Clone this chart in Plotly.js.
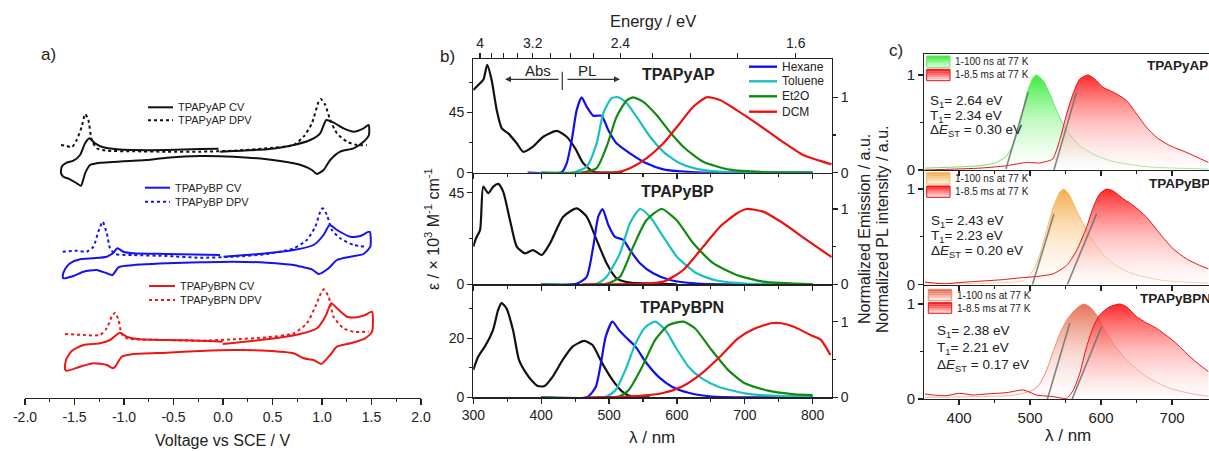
<!DOCTYPE html>
<html><head><meta charset="utf-8">
<script src="https://cdn.plot.ly/plotly-3.0.1.min.js"></script>
<style>html,body{margin:0;padding:0;background:#fff;}#chart{width:1209px;height:451px;}</style>
</head><body><div id="chart"></div>
<script>
// ================= DATA =================
// Panel a: cyclic voltammetry (CV) and DPV, current in arbitrary stacked units
const cvAP_V = [-0.029,0.106,0.443,0.713,0.881,0.982,1.043,1.117,1.218,1.319,1.420,1.471,1.474,1.420,1.319,1.184,1.083,1.016,0.949,0.898,0.814,0.713,0.443,0.106,-0.231,-0.568,-0.770,-0.905,-1.242,-1.276,-1.343,-1.393,-1.434,-1.478,-1.545,-1.612,-1.636,-1.629,-1.579,-1.511,-1.444,-1.393,-1.350,-1.292,-1.208,-1.073,-0.905,-0.568,-0.231,-0.045];
const cvAP_I = [246.3,247.0,248.7,253.0,258.0,264.7,278.0,275.3,269.7,266.3,269.7,273.0,263.0,256.3,249.7,246.3,238.0,228.0,224.0,228.0,232.0,234.7,238.7,241.3,242.0,240.3,238.0,237.3,235.3,234.7,233.0,224.7,212.3,214.7,218.7,221.3,224.7,231.3,235.3,237.3,243.0,254.7,259.7,254.7,250.7,248.7,248.0,248.0,249.0,249.3];
const dpvAP_V = [-1.636,-1.579,-1.528,-1.478,-1.427,-1.393,-1.360,-1.326,-1.276,-1.174,-0.905,-0.568,-0.231,0.106,0.443,0.713,0.814,0.898,0.966,0.989,1.033,1.083,1.151,1.252,1.353,1.454];
const dpvAP_I = [253.0,252.0,250.7,258.0,271.3,284.0,278.0,258.0,249.7,247.3,246.7,246.3,246.3,247.3,249.7,253.0,261.3,274.7,296.3,299.0,293.0,278.0,264.7,256.3,253.0,253.0];
const cvBP_V = [0.005,0.443,0.713,0.915,1.016,1.077,1.151,1.286,1.387,1.481,1.488,1.420,1.286,1.151,1.067,0.966,0.898,0.814,0.713,0.443,0.106,-0.231,-0.568,-0.972,-1.056,-1.117,-1.174,-1.276,-1.410,-1.511,-1.612,-1.619,-1.596,-1.545,-1.444,-1.309,-1.174,-1.107,-1.067,-1.006,-0.905,-0.568,-0.029];
const cvBP_I = [141.3,144.7,148.0,153.0,163.0,173.0,168.0,161.3,162.0,166.3,151.3,144.0,141.3,138.0,129.7,124.0,128.7,130.7,133.0,135.3,136.3,135.7,134.7,132.3,130.7,123.0,124.7,128.0,126.3,122.0,119.7,122.0,128.7,134.7,138.7,139.7,141.3,145.3,149.7,146.3,144.7,144.0,143.0];
const dpvBP_V = [-1.619,-1.478,-1.377,-1.309,-1.259,-1.215,-1.174,-1.141,-1.090,-0.905,-0.568,-0.231,0.106,0.443,0.713,0.847,0.932,0.989,1.009,1.050,1.100,1.184,1.319,1.437];
const dpvBP_I = [146.3,147.3,146.3,151.3,166.3,176.3,164.7,149.7,144.0,143.0,142.0,140.3,141.3,144.0,149.7,158.0,171.3,188.0,189.7,183.0,168.0,159.7,153.0,151.3];
const cvBPN_V = [-0.002,0.443,0.780,0.949,1.033,1.094,1.151,1.252,1.353,1.437,1.505,1.505,1.437,1.286,1.151,1.083,0.992,0.915,0.814,0.713,0.443,0.106,-0.231,-0.568,-0.905,-1.023,-1.090,-1.114,-1.174,-1.309,-1.444,-1.579,-1.596,-1.586,-1.528,-1.410,-1.242,-1.141,-1.090,-1.040,-0.972,-0.837,-0.568,-0.231,-0.002];
const cvBPN_I = [54.0,58.7,64.0,69.7,81.3,94.7,89.7,81.3,80.7,83.0,86.3,66.3,59.7,54.7,51.3,43.0,34.0,38.0,39.7,44.7,47.3,48.0,47.0,45.3,44.0,41.3,31.3,29.7,33.0,34.7,31.3,27.3,28.7,38.0,47.0,53.0,54.7,58.0,62.0,65.3,61.3,58.7,58.0,57.3,56.3];
const dpvBPN_V = [-1.596,-1.410,-1.242,-1.174,-1.124,-1.090,-1.056,-1.023,-0.972,-0.568,-0.231,0.106,0.443,0.713,0.847,0.932,0.989,1.016,1.067,1.117,1.218,1.319,1.471];
const dpvBPN_I = [64.0,63.0,63.0,69.7,81.3,85.3,78.0,64.0,59.7,58.0,57.3,58.7,60.7,64.7,74.7,91.3,104.7,108.7,101.3,81.3,69.7,66.3,66.3];
const voltTicks = [-2,-1.5,-1,-0.5,0,0.5,1,1.5,2];
const voltTickText = ['-2.0','-1.5','-1.0','-0.5','0.0','0.5','1.0','1.5','2.0'];

// Panel b: absorption (epsilon, x10^3 M-1 cm-1) and normalized emission
const absAP_wl = [300,310,315,320.5,327,334.5,342,351.5,364,373.5,388,403,423,437.5,450,462,477,491,520];
const absAP_eps = [61.6,66.6,69.5,80.3,69,46.7,33,29.3,21.9,15.6,19.4,26.8,31.1,26.8,18.2,7,0.7,0.1,0];
const hexAP_wl = [380,430,437.6,445,452.3,459.6,467,476.7,489,498.8,511,530.8,555,580,629,700,800];
const hexAP_I = [0,0.005,0.125,0.43,0.83,1.0,0.875,0.756,0.756,0.566,0.39,0.257,0.125,0.045,0.005,0,0];
const tolAP_wl = [400,447,467,481.7,491.5,503.8,513.6,526,540.6,560.2,579.8,604.4,629,678,800];
const tolAP_I = [0,0.003,0.08,0.39,0.79,0.99,1.0,0.92,0.74,0.48,0.28,0.125,0.05,0.005,0];
const et2AP_wl = [400,462,481.7,496.4,511,526,535.6,550.4,570,589.7,609.3,638.7,678,727,800];
const et2AP_I = [0,0.005,0.06,0.345,0.74,0.96,1.0,0.94,0.765,0.54,0.345,0.146,0.04,0.008,0];
const dcmAP_wl = [460,511,530.8,555,580,604.4,624,643.7,663.4,688,717.4,751.7,786,810,828];
const dcmAP_I = [0,0.005,0.06,0.19,0.39,0.655,0.875,1.0,0.965,0.83,0.655,0.434,0.235,0.16,0.11];

const absBP_wl = [300,304,310,314.7,322,329.5,336.8,344,354,364,376,388,400.7,413,432.5,452.3,467,481.7,496.4,511,530.8,580,600];
const absBP_eps = [18.5,22.6,26.7,48,44.7,48,49.3,45.5,31.6,18.5,15.2,16.8,14.4,20.1,33.2,37.3,33.2,21.8,10.3,2.9,0.8,0.2,0];
const hexBP_wl = [400,452,467,476.7,484,490.5,498.8,508.7,521,530.8,545.5,565,589.7,629,680,800];
const hexBP_I = [0,0.005,0.1,0.5,0.9,1.0,0.79,0.63,0.59,0.455,0.28,0.146,0.057,0.01,0,0];
const tolBP_wl = [400,481,496.4,516,530.8,545.5,560,580,599.6,629,658.5,702,800];
const tolBP_I = [0,0.005,0.1,0.41,0.81,1.0,0.9,0.63,0.37,0.146,0.05,0.01,0];
const et2BP_wl = [400,496,516,535.6,555,577.5,599.6,624,653.4,688,727,800];
const et2BP_I = [0,0.005,0.1,0.5,0.85,1.0,0.85,0.545,0.28,0.124,0.035,0];
const dcmBP_wl = [460,545,580,609.3,638.7,663.4,688,702.6,727,756.6,791,828];
const dcmBP_I = [0,0.005,0.035,0.19,0.5,0.765,0.94,1.0,0.965,0.81,0.59,0.36];

const absBPN_wl = [300,307.3,317,329,336.6,341.5,348.8,358.5,367.3,378,385.4,395,404.9,417,431.7,446.3,463.4,475.6,490,505,519.5,534,560];
const absBPN_eps = [9.3,13.8,17.2,22.8,29.6,31.9,30.2,22.8,12.7,8.1,5.9,3.8,3.8,7,12.7,17.2,19.1,17.7,11.5,5.9,1.9,0.2,0];
const hexBPN_wl = [400,468,480.5,488,495,505,514.6,524,539,553.7,573,592.7,617,651,700,800];
const hexBPN_I = [0,0.005,0.14,0.45,0.8,1.0,0.89,0.8,0.67,0.47,0.27,0.14,0.06,0.01,0,0];
const tolBPN_wl = [400,495,510,524,539,553.7,568,583,597.6,617,636.6,661,700,749,797.6];
const tolBPN_I = [0,0.005,0.1,0.36,0.71,0.93,1.0,0.89,0.67,0.405,0.25,0.14,0.053,0.018,0.01];
const et2BPN_wl = [400,514.6,529,548.8,568,587.8,609.8,626.8,651,675.6,700,734,773,800];
const et2BPN_I = [0,0.01,0.097,0.405,0.76,0.956,1.0,0.91,0.626,0.36,0.185,0.088,0.04,0.03];
const dcmBPN_wl = [466,529,578,607,636.6,666,690,714.6,739,753.7,773,797.6,812,822,826];
const dcmBPN_I = [0,0.01,0.053,0.14,0.317,0.56,0.78,0.91,0.98,0.98,0.93,0.82,0.76,0.625,0.56];

const solvents = ['Hexane','Toluene','Et2O','DCM'];
const energyTicks_eV = [4.0,3.8,3.6,3.4,3.2,3.0,2.8,2.6,2.4,2.2,2.0,1.8,1.6];
const energyTickText = ['4','','','','3.2','','','','2.4','','','','1.6'];

// Panel c: 77 K gated PL (normalized)
const flAP_wl = [352,429.5,453,467,476.4,485.8,495,504.5,509,518.6,528,537.4,551.5,570,593.7,617,664,710.8,751];
const flAP_I = [0.02,0.045,0.08,0.15,0.27,0.48,0.8,0.975,1.0,0.94,0.8,0.625,0.414,0.256,0.15,0.09,0.035,0.018,0.01];
const phAP_wl = [352,429.5,467,495,513.3,523,532,541.5,551.5,560.4,570,581.6,591,602.8,617,636,650,664,678,697,720,751];
const phAP_I = [0,0.02,0.045,0.08,0.074,0.09,0.116,0.31,0.59,0.8,0.958,1.0,0.958,0.87,0.82,0.73,0.59,0.45,0.344,0.256,0.186,0.08];
const flBP_wl = [352,400,450,476,490.5,504.5,514,523.3,532.6,542,547.7,556,565.5,579.6,598,617,645,687.3,751];
const flBP_I = [0.007,0.01,0.015,0.025,0.04,0.147,0.32,0.566,0.81,0.97,1.0,0.93,0.776,0.566,0.357,0.217,0.112,0.042,0.014];
const phBP_wl = [352,380,400,429.5,460,486,509,532.6,551.5,565.5,579.6,589,598,607.8,617,631,645,664,683,701.5,720,739,751];
const phBP_I = [0.025,0.007,0.02,0.035,0.05,0.07,0.084,0.112,0.2,0.357,0.6,0.81,0.95,1.0,0.98,0.9,0.83,0.706,0.53,0.374,0.27,0.2,0.165];
const flBPN_wl = [352,429.5,476.4,504.5,514,523.3,532.6,542,551.5,563,574.9,584.3,593.7,603,617,636,664,697,729.5,751];
const flBPN_I = [0.018,0.025,0.04,0.095,0.165,0.305,0.5,0.69,0.83,0.937,1.0,0.97,0.884,0.76,0.586,0.41,0.235,0.112,0.053,0.03];
const phBPN_wl = [352,363,382,400.7,419,438,467,490.5,509,532.6,551.5,561,570,579.6,589,598,612,626.4,636,650,664,678,697,711,725,739,751];
const phBPN_I = [0.053,0.042,0.035,0.06,0.042,0.053,0.067,0.095,0.042,0.025,0.007,0.095,0.27,0.55,0.76,0.884,0.97,1.0,0.97,0.867,0.8,0.744,0.64,0.55,0.446,0.358,0.29];
// onset tangents [wl0, wl1], [I0, I1]
const onsetAP_S = [[466,497.5],[0.01,0.82]], onsetAP_T = [[532.6,565.5],[-0.025,0.82]];
const onsetBP_S = [[502.2,533.6],[-0.028,0.74]], onsetBP_T = [[550.5,593.7],[-0.035,0.74]];
const onsetBPN_S = [[523.3,556],[-0.028,0.8]], onsetBPN_T = [[556,600.7],[-0.06,0.76]];
const compounds = ['TPAPyAP','TPAPyBP','TPAPyBPN'];
const S1 = [2.64,2.43,2.38], T1 = [2.34,2.23,2.21], dEST = [0.30,0.20,0.17];
const gateLabels = ['1-100 ns at 77 K','1-8.5 ms at 77 K'];

// ================= BUILD =================
const W = 1209, H = 451;
const px = x => x / W, py = y => 1 - y / H;
const FONT = 'Arial, "Liberation Sans", sans-serif';
const data = [];
function add(x, y, xa, ya, color, width, dash, extra) {
  data.push(Object.assign({type:'scatter', mode:'lines', x:x, y:y, xaxis:xa, yaxis:ya,
    showlegend:false, hoverinfo:'skip',
    line:{color:color, width:width, dash:dash||'solid', shape:'spline', smoothing:0.6}}, extra||{}));
}
// panel a
add(cvAP_V, cvAP_I, 'x','y','#111',2); add(dpvAP_V, dpvAP_I,'x','y','#111',2,'dot');
add(cvBP_V, cvBP_I, 'x','y','#1414ee',2); add(dpvBP_V, dpvBP_I,'x','y','#1414ee',2,'dot');
add(cvBPN_V, cvBPN_I,'x','y','#ee1515',2); add(dpvBPN_V, dpvBPN_I,'x','y','#ee1515',2,'dot');
// panel b
const solvColors = ['#1010ee','#1cbfbf','#118a11','#ee1111'];
const bSets = [
  {xa:'x2', ya:'y2', yr:'y3', abs:[absAP_wl,absAP_eps], em:[[hexAP_wl,hexAP_I],[tolAP_wl,tolAP_I],[et2AP_wl,et2AP_I],[dcmAP_wl,dcmAP_I]]},
  {xa:'x3', ya:'y4', yr:'y5', abs:[absBP_wl,absBP_eps], em:[[hexBP_wl,hexBP_I],[tolBP_wl,tolBP_I],[et2BP_wl,et2BP_I],[dcmBP_wl,dcmBP_I]]},
  {xa:'x4', ya:'y6', yr:'y7', abs:[absBPN_wl,absBPN_eps], em:[[hexBPN_wl,hexBPN_I],[tolBPN_wl,tolBPN_I],[et2BPN_wl,et2BPN_I],[dcmBPN_wl,dcmBPN_I]]}
];
bSets.forEach(s => {
  add(s.abs[0], s.abs[1], s.xa, s.ya, '#111', 2.2);
  s.em.forEach((e,i) => add(e[0], e[1], s.xa, s.yr, solvColors[i], 2.2));
});
// helper (invisible) trace so the top energy axis gets drawn
data.push({type:'scatter', mode:'lines', x:energyTicks_eV.map(e=>1240/e), y:energyTicks_eV.map(()=>null), xaxis:'x5', yaxis:'y2', showlegend:false, hoverinfo:'skip', line:{width:0}});
// panel c
const cSets = [
  {xa:'x6', ya:'y8', fl:[flAP_wl,flAP_I], ph:[phAP_wl,phAP_I], flc:[40,235,40], fll:'rgb(110,228,110)', on:[onsetAP_S,onsetAP_T]},
  {xa:'x7', ya:'y9', fl:[flBP_wl,flBP_I], ph:[phBP_wl,phBP_I], flc:[245,165,60], fll:'rgb(246,185,110)', on:[onsetBP_S,onsetBP_T]},
  {xa:'x8', ya:'y10', fl:[flBPN_wl,flBPN_I], ph:[phBPN_wl,phBPN_I], flc:[228,100,70], fll:'rgb(240,135,115)', on:[onsetBPN_S,onsetBPN_T]}
];
const rgba = (c,a) => 'rgba('+c[0]+','+c[1]+','+c[2]+','+a+')';
const phc = [255,20,20];
cSets.forEach(s => {
  const grad = c => ({type:'vertical', start:0, stop:1, colorscale:[[0,'rgba(255,255,255,0.35)'],[0.5,rgba(c.map(v=>Math.round(v+(255-v)*0.55)),0.6)],[1,rgba(c,0.92)]]});
  add(s.fl[0], s.fl[1], s.xa, s.ya, s.fll, 1, 'solid', {fill:'tozeroy', fillgradient:grad(s.flc)});
  add(s.ph[0], s.ph[1], s.xa, s.ya, 'rgb(225,20,20)', 1, 'solid', {fill:'tozeroy', fillgradient:grad(phc)});
  s.on.forEach(o => add(o[0], o[1], s.xa, s.ya, 'rgba(110,110,110,0.85)', 1.6, 'solid', {line:{color:'rgba(110,110,110,0.85)', width:1.6}}));
});

// axes
const base = {showgrid:false, zeroline:false, showline:true, linecolor:'#222', linewidth:1.2,
  ticks:'outside', tickcolor:'#222', tickwidth:1.2, ticklen:5, tickfont:{size:14, color:'#222', family:FONT}};
const mk = o => Object.assign({}, base, o);
const minorOf = (vals, len) => ({tickmode:'array', tickvals:vals, ticks:'outside', ticklen:len||3, tickcolor:'#222', tickwidth:1.1});
const bX = [py(172.7), py(59.3)], bM = [py(284.3), py(172.7)], bB = [py(397.3), py(284.3)];
const cT = [py(170), py(54.3)], cM = [py(284.5), py(170)], cB = [py(399), py(284.5)];
const bDom = [px(473.3), px(831.7)], cDom = [px(924.3), 1];
const wlTicks = [300,400,500,600,700,800], wlMinor = [350,450,550,650,750];
const cTicks = [400,500,600,700], cMinor = [450,550,650];
const layout = {
  width:W, height:H, margin:{l:0,r:0,t:0,b:0}, paper_bgcolor:'#fff', plot_bgcolor:'rgba(0,0,0,0)',
  font:{family:FONT, color:'#222'}, showlegend:false,
  xaxis: mk({domain:[px(25), px(421)], anchor:'y', range:[-2,2], tickmode:'array', tickvals:voltTicks, ticktext:voltTickText, ticklen:6, tickfont:{size:14,color:'#222'}, minor:minorOf([-1.75,-1.25,-0.75,-0.25,0.25,0.75,1.25,1.75],3)}),
  yaxis: {domain:[py(398), py(30)], anchor:'x', range:[0,368], visible:false},
  xaxis2: mk({domain:bDom, anchor:'y2', range:[300,828], tickmode:'array', tickvals:wlTicks, showticklabels:false, minor:minorOf(wlMinor)}),
  xaxis5: mk({overlaying:'x2', side:'top', anchor:'y2', range:[300,828], tickmode:'array', tickvals:energyTicks_eV.map(e=>1240/e), ticktext:energyTickText, ticklen:5, tickfont:{size:14,color:'#222'}}),
  yaxis2: mk({domain:bX, anchor:'x2', range:[0,84.5], tickmode:'array', tickvals:[0,45], minor:minorOf([22.5,67.5])}),
  yaxis3: mk({overlaying:'y2', side:'right', anchor:'x2', range:[0,1.504], tickmode:'array', tickvals:[0,1], minor:minorOf([0.5])}),
  xaxis3: mk({domain:bDom, anchor:'y4', range:[300,828], tickmode:'array', tickvals:wlTicks, showticklabels:false, minor:minorOf(wlMinor)}),
  yaxis4: mk({domain:bM, anchor:'x3', range:[0,54.8], tickmode:'array', tickvals:[0,45], minor:minorOf([22.5])}),
  yaxis5: mk({overlaying:'y4', side:'right', anchor:'x3', range:[0,1.482], tickmode:'array', tickvals:[0,1], minor:minorOf([0.5])}),
  xaxis4: mk({domain:bDom, anchor:'y6', range:[300,828], tickmode:'array', tickvals:wlTicks, minor:minorOf(wlMinor)}),
  yaxis6: mk({domain:bB, anchor:'x4', range:[0,38.3], tickmode:'array', tickvals:[0,20], minor:minorOf([10,30])}),
  yaxis7: mk({overlaying:'y6', side:'right', anchor:'x4', range:[0,1.495], tickmode:'array', tickvals:[0,1], minor:minorOf([0.5])}),
  xaxis6: mk({domain:cDom, anchor:'y8', range:[351,752], mirror:true, tickmode:'array', tickvals:cTicks, showticklabels:false, minor:minorOf(cMinor)}),
  yaxis8: mk({domain:cT, anchor:'x6', range:[0,1.218], tickmode:'array', tickvals:[0,1], tickfont:{size:15,color:'#222'}, minor:minorOf([0.5])}),
  xaxis7: mk({domain:cDom, anchor:'y9', range:[351,752], tickmode:'array', tickvals:cTicks, showticklabels:false, minor:minorOf(cMinor)}),
  yaxis9: mk({domain:cM, anchor:'x7', range:[0,1.2], tickmode:'array', tickvals:[0,1], tickfont:{size:15,color:'#222'}, minor:minorOf([0.5])}),
  xaxis8: mk({domain:cDom, anchor:'y10', range:[351,752], tickmode:'array', tickvals:cTicks, tickfont:{size:15,color:'#222'}, minor:minorOf(cMinor)}),
  yaxis10: mk({domain:cB, anchor:'x8', range:[0,1.205], tickmode:'array', tickvals:[0,1], tickfont:{size:15,color:'#222'}, minor:minorOf([0.5])}),
  shapes:[], annotations:[]
};
const shapes = layout.shapes, ann = layout.annotations;
function seg(x0,y0,x1,y1,color,width,dash){shapes.push({type:'line',xref:'paper',yref:'paper',x0:px(x0),y0:py(y0),x1:px(x1),y1:py(y1),line:{color:color,width:width||2,dash:dash||'solid'}});}
function txt(x,y,text,size,o){ann.push(Object.assign({xref:'paper',yref:'paper',x:px(x),y:py(y),text:text,showarrow:false,font:{size:size,color:'#222',family:FONT},xanchor:'left',yanchor:'middle'},o||{}));}

// panel a legends
const aLegColors = ['#111','#1414ee','#ee1515'];
const aLegPos = [[148,173,107.3,120.3],[145,170,187.7,201.7],[149,175,286,300]];
compounds.forEach((c,i) => {
  const p = aLegPos[i];
  seg(p[0],p[2],p[1],p[2],aLegColors[i],2); txt(p[1]+3,p[2],c+' CV',11);
  seg(p[0],p[3],p[1],p[3],aLegColors[i],2,'dot'); txt(p[1]+3,p[3],c+' DPV',11);
});
// panel b legend
const bLegRows = [66.7,81.3,96.3,111.7];
solvents.forEach((s,i) => { seg(749,bLegRows[i],777,bLegRows[i],solvColors[i],2.4); txt(780,bLegRows[i],s,12); });
// Abs / PL
seg(562.3,71.7,562.3,90,'#444',1.3);
ann.push({xref:'paper',yref:'paper',x:px(505),y:py(79.3),ax:55,ay:0,text:'',showarrow:true,arrowhead:2,arrowsize:1,arrowwidth:1.2,arrowcolor:'#333'});
ann.push({xref:'paper',yref:'paper',x:px(620),y:py(79.3),ax:-54,ay:0,text:'',showarrow:true,arrowhead:2,arrowsize:1,arrowwidth:1.2,arrowcolor:'#333'});
txt(537.5,70,'Abs',15,{xanchor:'center'}); txt(587,70,'PL',15,{xanchor:'center'});
// panel b compound labels
const bLab = [[678.5,75],[677,191.7],[682,307]];
compounds.forEach((c,i)=>txt(bLab[i][0],bLab[i][1],'<b>'+c+'</b>',16,{xanchor:'center'}));
// panel c labels, texts, legends
const cLab = [[1145,65],[1146.7,183.3],[1138.3,298.3]];
const cTxt = [[928,[101.7,116,130]],[929,[221.7,236.7,251.7]],[935,[331.7,348.3,365]]];
const cLeg = [[926.7,950,[56,67.3],[69.3,80.7]],[926.7,950,[172.7,184],[186,197.3]],[928.3,951.7,[289.3,300.7],[302.7,313.3]]];
function gradBox(x0,x1,yy,c,border){
  const n=6, h=(yy[1]-yy[0])/n;
  for(let k=0;k<n;k++){ const a = 0.95 - k*0.16;
    shapes.push({type:'rect',xref:'paper',yref:'paper',x0:px(x0),x1:px(x1),y0:py(yy[0]+k*h),y1:py(yy[0]+(k+1)*h),fillcolor:rgba(c,Math.max(a,0.08)),line:{width:0}}); }
  shapes.push({type:'rect',xref:'paper',yref:'paper',x0:px(x0),x1:px(x1),y0:py(yy[0]),y1:py(yy[1]),line:{color:border,width:1}});
}
compounds.forEach((c,i)=>{
  txt(cLab[i][0],cLab[i][1],'<b>'+c+'</b>',13.5);
  const t = cTxt[i];
  txt(t[0],t[1][0],'S<sub>1</sub>= '+S1[i].toFixed(2)+' eV',13.5);
  txt(t[0],t[1][1],'T<sub>1</sub>= '+T1[i].toFixed(2)+' eV',13.5);
  txt(t[0],t[1][2],'Δ<i>E</i><sub>ST</sub> = '+dEST[i].toFixed(2)+' eV',13.5);
  const L = cLeg[i];
  gradBox(L[0],L[1],L[2],cSets[i].flc,cSets[i].fll);
  gradBox(L[0],L[1],L[3],phc,'rgb(225,20,20)');
  txt(L[1]+3,(L[2][0]+L[2][1])/2,gateLabels[0],10);
  txt(L[1]+3,(L[3][0]+L[3][1])/2,gateLabels[1],10);
});
// panel tags and axis titles
txt(48.5,54.5,'a)',17,{xanchor:'center'}); txt(447.5,56.5,'b)',17,{xanchor:'center'}); txt(895.5,50.5,'c)',17,{xanchor:'center'});
txt(222.7,440,'Voltage vs SCE / V',16,{xanchor:'center'});
txt(652,437,'λ / nm',17,{xanchor:'center'});
txt(1068,435,'λ / nm',17,{xanchor:'center'});
txt(653,21,'Energy / eV',16.5,{xanchor:'center'});
txt(432,229,'ε / × 10<sup>3</sup> M<sup>-1</sup> cm<sup>-1</sup>',16,{xanchor:'center',textangle:-90});
txt(864,229,'Normalized Emission / a.u.',16,{xanchor:'center',textangle:-90});
txt(882,229,'Normalized PL intensity / a.u.',16,{xanchor:'center',textangle:-90});

Plotly.newPlot('chart', data, layout, {staticPlot:true, displayModeBar:false});
</script></body></html>
